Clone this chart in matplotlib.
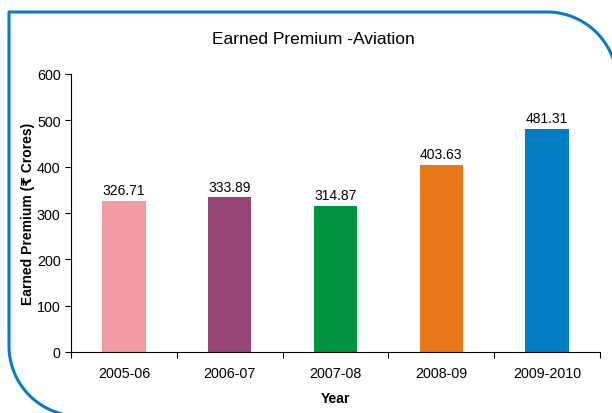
import matplotlib.pyplot as plt
import numpy as np

plt.rcParams['font.family'] = ['Liberation Sans', 'DejaVu Sans']

years = ['2005-06', '2006-07', '2007-08', '2008-09', '2009-2010']
premium = [326.71, 333.89, 314.87, 403.63, 481.31]
colors = ['#f09ca2', '#954677', '#009340', '#e8771a', '#007dc5']

W, H = 612, 414
fig = plt.figure(figsize=(W / 100, H / 100), dpi=100)

# blue frame, drawn in pixel coords on an overlay axes
bg = fig.add_axes([0, 0, 1, 1])
bg.set_xlim(0, W)
bg.set_ylim(H, 0)
bg.axis('off')
r = 70
x0, y0, x1, y1 = 9, 13, 617, 417
t1 = np.linspace(-np.pi / 2, 0, 40)          # top-right corner
t2 = np.linspace(np.pi / 2, np.pi, 40)       # bottom-left corner
fx = np.concatenate([[x0, x0], x1 - r + r * np.cos(t1), [x1, x1],
                     x0 + r + r * np.cos(t2), [x0]])
fy = np.concatenate([[y1 - r, y0], y0 + r + r * np.sin(t1), [y0 + r, y1],
                     y1 - r + r * np.sin(t2), [y1 - r]])
bg.plot(fx, fy, color='#0a7cc4', lw=2.2, solid_capstyle='butt')

ax = fig.add_axes([71 / W, (H - 353) / H, (600 - 71) / W, (353 - 75) / H])
ax.patch.set_alpha(0)

x = np.arange(len(years))
ax.bar(x, premium, width=0.41, color=colors)
for xi, v in zip(x, premium):
    ax.text(xi, v + 8, f'{v:.2f}', ha='center', va='bottom', fontsize=10)

ax.set_xlim(-0.5, len(years) - 0.5)
ax.set_ylim(0, 600)
ax.set_yticks(range(0, 601, 100))
# tick marks between categories, labels under bars
ax.set_xticks(np.arange(-0.5, len(years), 1.0))
ax.set_xticklabels([])
ax.set_xticks(x, minor=True)
ax.set_xticklabels(years, minor=True, fontsize=10.3)
ax.tick_params(axis='x', which='minor', length=0, pad=10)
ax.tick_params(axis='both', which='major', direction='out', length=4,
               width=0.8, labelsize=10.3)
for s in ['top', 'right']:
    ax.spines[s].set_visible(False)

ax.set_xlabel('Year', fontsize=10, fontweight='bold', labelpad=8)
ax.set_ylabel('Earned Premium (₹ Crores)', fontsize=10, fontweight='bold', labelpad=1)
fig.text(313 / W, 1 - 40 / H, 'Earned Premium -Aviation', ha='center', va='center',
         fontsize=12.5)

fig.savefig('out.png', dpi=100)
